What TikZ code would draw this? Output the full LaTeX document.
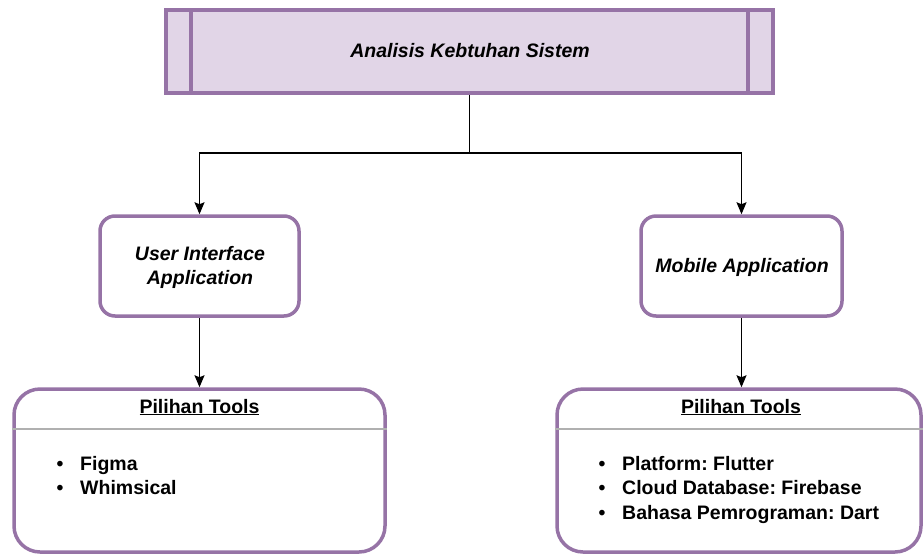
\documentclass[tikz,border=0pt]{standalone}
\usepackage{fontspec}
\setmainfont{Liberation Sans}
\usetikzlibrary{arrows.meta}
\frenchspacing
\definecolor{lilac}{HTML}{9673A6}
\definecolor{lilacfill}{HTML}{E1D5E7}
\definecolor{rulegray}{HTML}{B0B0B0}
\tikzset{
  x=1pt, y=-1pt,
  txt/.style={inner sep=0pt, font=\fontsize{19.5}{24}\selectfont\bfseries},
  itxt/.style={txt, font=\fontsize{19.5}{24}\selectfont\bfseries\itshape},
  procbox/.style={draw=lilac, fill=lilacfill, line width=4pt, inner sep=0pt},
  midbox/.style={draw=lilac, fill=white, line width=3.5pt, rounded corners=15pt, inner sep=0pt},
  toolbox/.style={draw=lilac, fill=white, line width=3.5pt, rounded corners=26pt, inner sep=0pt},
  link/.style={draw=black, line width=1.4pt},
  arr/.style={link, -{Stealth[length=12pt,width=10pt,inset=2pt]}},
}
\begin{document}
\begin{tikzpicture}
\useasboundingbox (0,0) rectangle (923,555);

% top process box with side bars
\node[procbox, minimum width=607pt, minimum height=83pt] (top) at (469.5,51.5) {};
\draw[lilac, line width=4pt] ([xshift=27pt]top.north west) -- ([xshift=27pt]top.south west);
\draw[lilac, line width=4pt] ([xshift=-27pt]top.north east) -- ([xshift=-27pt]top.south east);
\node[itxt] (toptxt) at (470,51) {Analisis Kebtuhan Sistem};

% middle boxes
\node[midbox, minimum width=199pt, minimum height=100pt] (uia) at (199.5,266) {};
\node[itxt, anchor=base] (uia1) at (200,260) {User Interface};
\node[itxt, anchor=base] (uia2) at (200,284) {Application};

\node[midbox, minimum width=201pt, minimum height=100pt] (mob) at (741.5,266) {};
\node[itxt, anchor=base] (mob1) at (742,272) {Mobile Application};

% tool boxes
\node[toolbox, minimum width=371pt, minimum height=163pt] (tl) at (199.5,470.5) {};
\node[toolbox, minimum width=364pt, minimum height=163pt] (tr) at (739,470.5) {};
\draw[rulegray, line width=1.5pt] ([yshift=-41.5pt]tl.north west) -- ([yshift=-41.5pt]tl.north east);
\draw[rulegray, line width=1.5pt] ([yshift=-41.5pt]tr.north west) -- ([yshift=-41.5pt]tr.north east);

\node[txt, anchor=base] (tlh) at (199.5,413) {\underline{Pilihan Tools}};
\node[txt, anchor=base] (trh) at (741,413) {\underline{Pilihan Tools}};

% bullet lists
\node[txt, anchor=base] (b1) at (60,470) {\textbullet};
\node[txt, anchor=base west] (i1) at (80,470) {Figma};
\node[txt, anchor=base] (b2) at (60,494.5) {\textbullet};
\node[txt, anchor=base west] (i2) at (80,494.5) {Whimsical};

\node[txt, anchor=base] (b3) at (602,470) {\textbullet};
\node[txt, anchor=base west] (i3) at (622,470) {Platform: Flutter};
\node[txt, anchor=base] (b4) at (602,494.5) {\textbullet};
\node[txt, anchor=base west] (i4) at (622,494.5) {Cloud Database: Firebase};
\node[txt, anchor=base] (b5) at (602,519) {\textbullet};
\node[txt, anchor=base west] (i5) at (622,519) {Bahasa Pemrograman: Dart};

% connectors
\coordinate (split) at (469.5,153);
\draw[link] (top.south) -- (split);
\draw[arr] (split) -| (uia.north);
\draw[arr] (split) -| (mob.north);
\draw[arr] (uia.south) -- (uia.south |- tl.north);
\draw[arr] (mob.south) -- (mob.south |- tr.north);
\end{tikzpicture}
\end{document}
